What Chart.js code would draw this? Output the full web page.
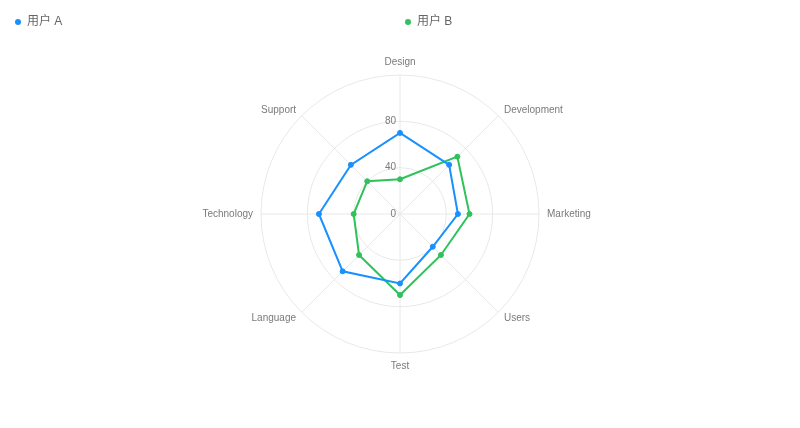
<!DOCTYPE html>
<html>
<head>
<meta charset="utf-8">
<script src="https://cdn.jsdelivr.net/npm/chart.js@4"></script>
<style>
  html, body { margin: 0; padding: 0; background: #fff; }
  #wrap { position: relative; width: 800px; height: 428px; }
  #legend .item { position: absolute; top: 13px; height: 17px; line-height: 17px; font-size: 12px;
    font-family: "Liberation Sans", "Noto Sans CJK SC", sans-serif; color: #666; white-space: nowrap; }
  #legend .dot { position: absolute; top: 5.5px; width: 6px; height: 6px; border-radius: 50%; }
  #legend .txt { position: absolute; left: 12px; top: 0; }
</style>
</head>
<body>
<div id="wrap">
  <canvas id="c" width="800" height="428"></canvas>
  <div id="legend"></div>
</div>
<script>
const categories = ['Design', 'Development', 'Marketing', 'Users', 'Test', 'Language', 'Technology', 'Support'];
const seriesNames = ['用户 A', '用户 B'];
const userA = [70, 60, 50, 40, 60, 70, 70, 60];
const userB = [30, 70, 60, 50, 70, 50, 40, 40];
const tickValues = [0, 40, 80];
const tickLabels = ['0', '40', '80'];
const colors = ['#1890ff', '#2fc25b'];
const legendX = [15, 405];

const FONT = '"Liberation Sans", Arial, sans-serif';
const labelColor = '#7a7a7a';
const LABEL_OFFSET = 8;

const axisTextPlugin = {
  id: 'axisText',
  beforeDatasetsDraw(chart) {
    const s = chart.scales.r;
    const ctx = chart.ctx;
    ctx.save();
    ctx.font = '10px ' + FONT;
    ctx.fillStyle = labelColor;
    // radial tick labels, right-aligned beside the vertical axis line
    ctx.textAlign = 'right';
    ctx.textBaseline = 'middle';
    tickValues.forEach((v, i) => {
      const d = s.getDistanceFromCenterForValue(v);
      ctx.fillText(tickLabels[i], s.xCenter - 4, s.yCenter - d);
    });
    // category labels around the outer circle
    categories.forEach((name, i) => {
      const p = s.getPointPosition(i, s.drawingArea + LABEL_OFFSET);
      const dx = p.x - s.xCenter, dy = p.y - s.yCenter;
      ctx.textAlign = Math.abs(dx) < 1 ? 'center' : (dx > 0 ? 'left' : 'right');
      if (Math.abs(dx) < 1) {
        ctx.textBaseline = dy < 0 ? 'bottom' : 'top';
      } else {
        ctx.textBaseline = 'middle';
      }
      ctx.fillText(name, p.x, p.y);
    });
    ctx.restore();
  }
};

const seriesData = [userA, userB];
const datasets = seriesNames.map((name, i) => ({
  label: name,
  data: seriesData[i],
  borderColor: colors[i],
  backgroundColor: colors[i],
  pointBackgroundColor: colors[i],
  pointBorderColor: colors[i],
  pointRadius: 2.5,
  pointBorderWidth: 1,
  pointHoverRadius: 3,
  borderWidth: 2,
  fill: false,
  tension: 0
}));

new Chart(document.getElementById('c'), {
  type: 'radar',
  data: { labels: categories, datasets },
  options: {
    responsive: false,
    animation: false,
    layout: { padding: { top: 75, bottom: 75, left: 0, right: 0 } },
    plugins: { legend: { display: false }, tooltip: { enabled: false } },
    scales: {
      r: {
        min: 0,
        max: 120,
        ticks: { stepSize: 40, display: false },
        grid: { circular: true, color: '#e8e8e8', lineWidth: 1 },
        angleLines: { color: '#e8e8e8', lineWidth: 1 },
        pointLabels: { display: false }
      }
    }
  },
  plugins: [axisTextPlugin]
});

const legend = document.getElementById('legend');
seriesNames.forEach((name, i) => {
  const item = document.createElement('div');
  item.className = 'item';
  item.style.left = legendX[i] + 'px';
  const dot = document.createElement('span');
  dot.className = 'dot';
  dot.style.background = colors[i];
  dot.style.left = '0px';
  const txt = document.createElement('span');
  txt.className = 'txt';
  txt.textContent = name;
  item.appendChild(dot);
  item.appendChild(txt);
  legend.appendChild(item);
});
</script>
</body>
</html>
